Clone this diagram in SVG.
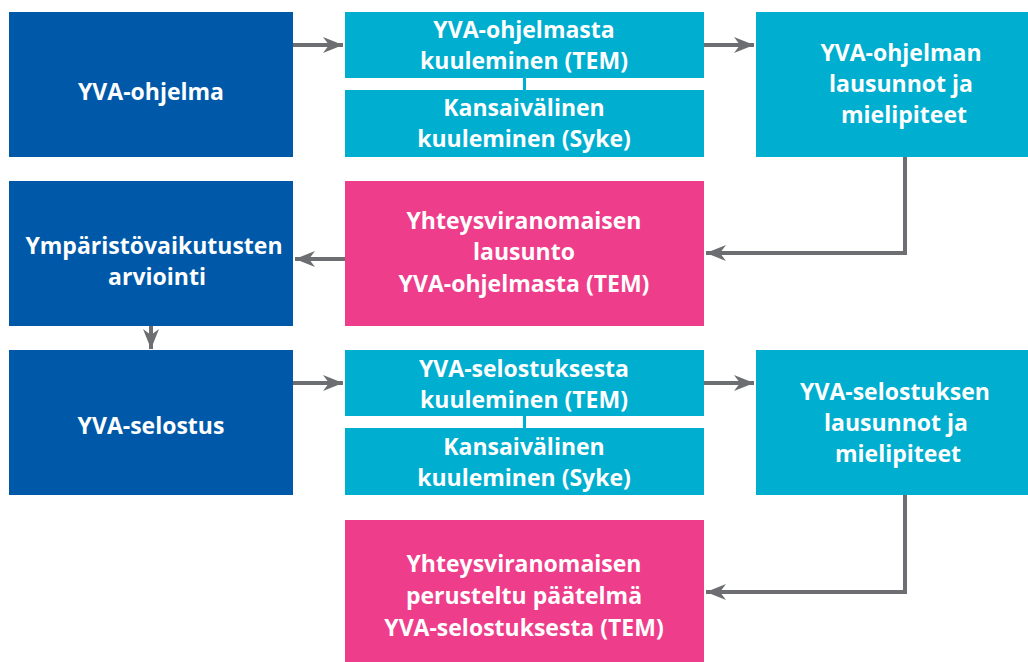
<svg xmlns="http://www.w3.org/2000/svg" width="1028" height="662" viewBox="0 0 1028 662">
<style>
.blue{fill:#0059A8}
.cyan{fill:#00AECF}
.pink{fill:#EE3D8A}
text{font-family:"Open Sans","Liberation Sans",sans-serif;font-weight:700;font-size:23px;fill:#ffffff;text-anchor:middle}
.conn{stroke:#6D6E71;stroke-width:4;fill:none}
</style>
<defs>
<marker id="ah" markerUnits="userSpaceOnUse" markerWidth="22" markerHeight="22" viewBox="0 0 22 22" refX="20" refY="11" orient="auto">
<path d="M0,3 L20,11 L0,19 L6,11 Z" fill="#6D6E71"/>
</marker>
</defs>
<rect width="1028" height="662" fill="#ffffff"/>
<g id="connectors">
<path class="conn" d="M293,45 H343" marker-end="url(#ah)"/>
<path class="conn" d="M704,45 H754" marker-end="url(#ah)"/>
<path class="conn" d="M905,157 V253 H706" marker-end="url(#ah)"/>
<path class="conn" d="M345,259 H295" marker-end="url(#ah)"/>
<path class="conn" d="M151,326 V349" marker-end="url(#ah)"/>
<path class="conn" d="M293,383 H343" marker-end="url(#ah)"/>
<path class="conn" d="M704,383 H754" marker-end="url(#ah)"/>
<path class="conn" d="M905,495 V592 H706" marker-end="url(#ah)"/>
<rect x="523" y="78" width="3" height="12" class="cyan"/>
<rect x="523" y="416" width="3" height="12" class="cyan"/>
</g>
<g id="n-yva-ohjelma">
<rect x="9" y="12" width="284" height="145" class="blue"/>
<text x="151" y="100">YVA-ohjelma</text>
</g>
<g id="n-kuuleminen-tem-1">
<rect x="345" y="12" width="359" height="66" class="cyan"/>
<text x="524" y="38">YVA-ohjelmasta</text>
<text x="524" y="69">kuuleminen (TEM)</text>
</g>
<g id="n-kuuleminen-syke-1">
<rect x="345" y="90" width="359" height="67" class="cyan"/>
<text x="524" y="116">Kansaivälinen</text>
<text x="524" y="147">kuuleminen (Syke)</text>
</g>
<g id="n-lausunnot-1">
<rect x="756" y="12" width="272" height="145" class="cyan"/>
<text x="901" y="61">YVA-ohjelman</text>
<text x="901" y="92">lausunnot ja</text>
<text x="904" y="123">mielipiteet</text>
</g>
<g id="n-ymparistovaikutusten">
<rect x="9" y="181" width="284" height="145" class="blue"/>
<text x="154" y="254">Ympäristövaikutusten</text>
<text x="157" y="285">arviointi</text>
</g>
<g id="n-lausunto-tem">
<rect x="345" y="181" width="359" height="145" class="pink"/>
<text x="524" y="229">Yhteysviranomaisen</text>
<text x="524" y="260">lausunto</text>
<text x="524" y="292">YVA-ohjelmasta (TEM)</text>
</g>
<g id="n-yva-selostus">
<rect x="9" y="350" width="284" height="145" class="blue"/>
<text x="151" y="434">YVA-selostus</text>
</g>
<g id="n-kuuleminen-tem-2">
<rect x="345" y="350" width="359" height="66" class="cyan"/>
<text x="524" y="377">YVA-selostuksesta</text>
<text x="524" y="408">kuuleminen (TEM)</text>
</g>
<g id="n-kuuleminen-syke-2">
<rect x="345" y="428" width="359" height="67" class="cyan"/>
<text x="524" y="455">Kansaivälinen</text>
<text x="524" y="486">kuuleminen (Syke)</text>
</g>
<g id="n-lausunnot-2">
<rect x="756" y="350" width="272" height="145" class="cyan"/>
<text x="895" y="400">YVA-selostuksen</text>
<text x="896" y="431">lausunnot ja</text>
<text x="898" y="462">mielipiteet</text>
</g>
<g id="n-paatelma">
<rect x="345" y="520" width="359" height="142" class="pink"/>
<text x="524" y="572">Yhteysviranomaisen</text>
<text x="524" y="604">perusteltu päätelmä</text>
<text x="524" y="636">YVA-selostuksesta (TEM)</text>
</g>
</svg>
